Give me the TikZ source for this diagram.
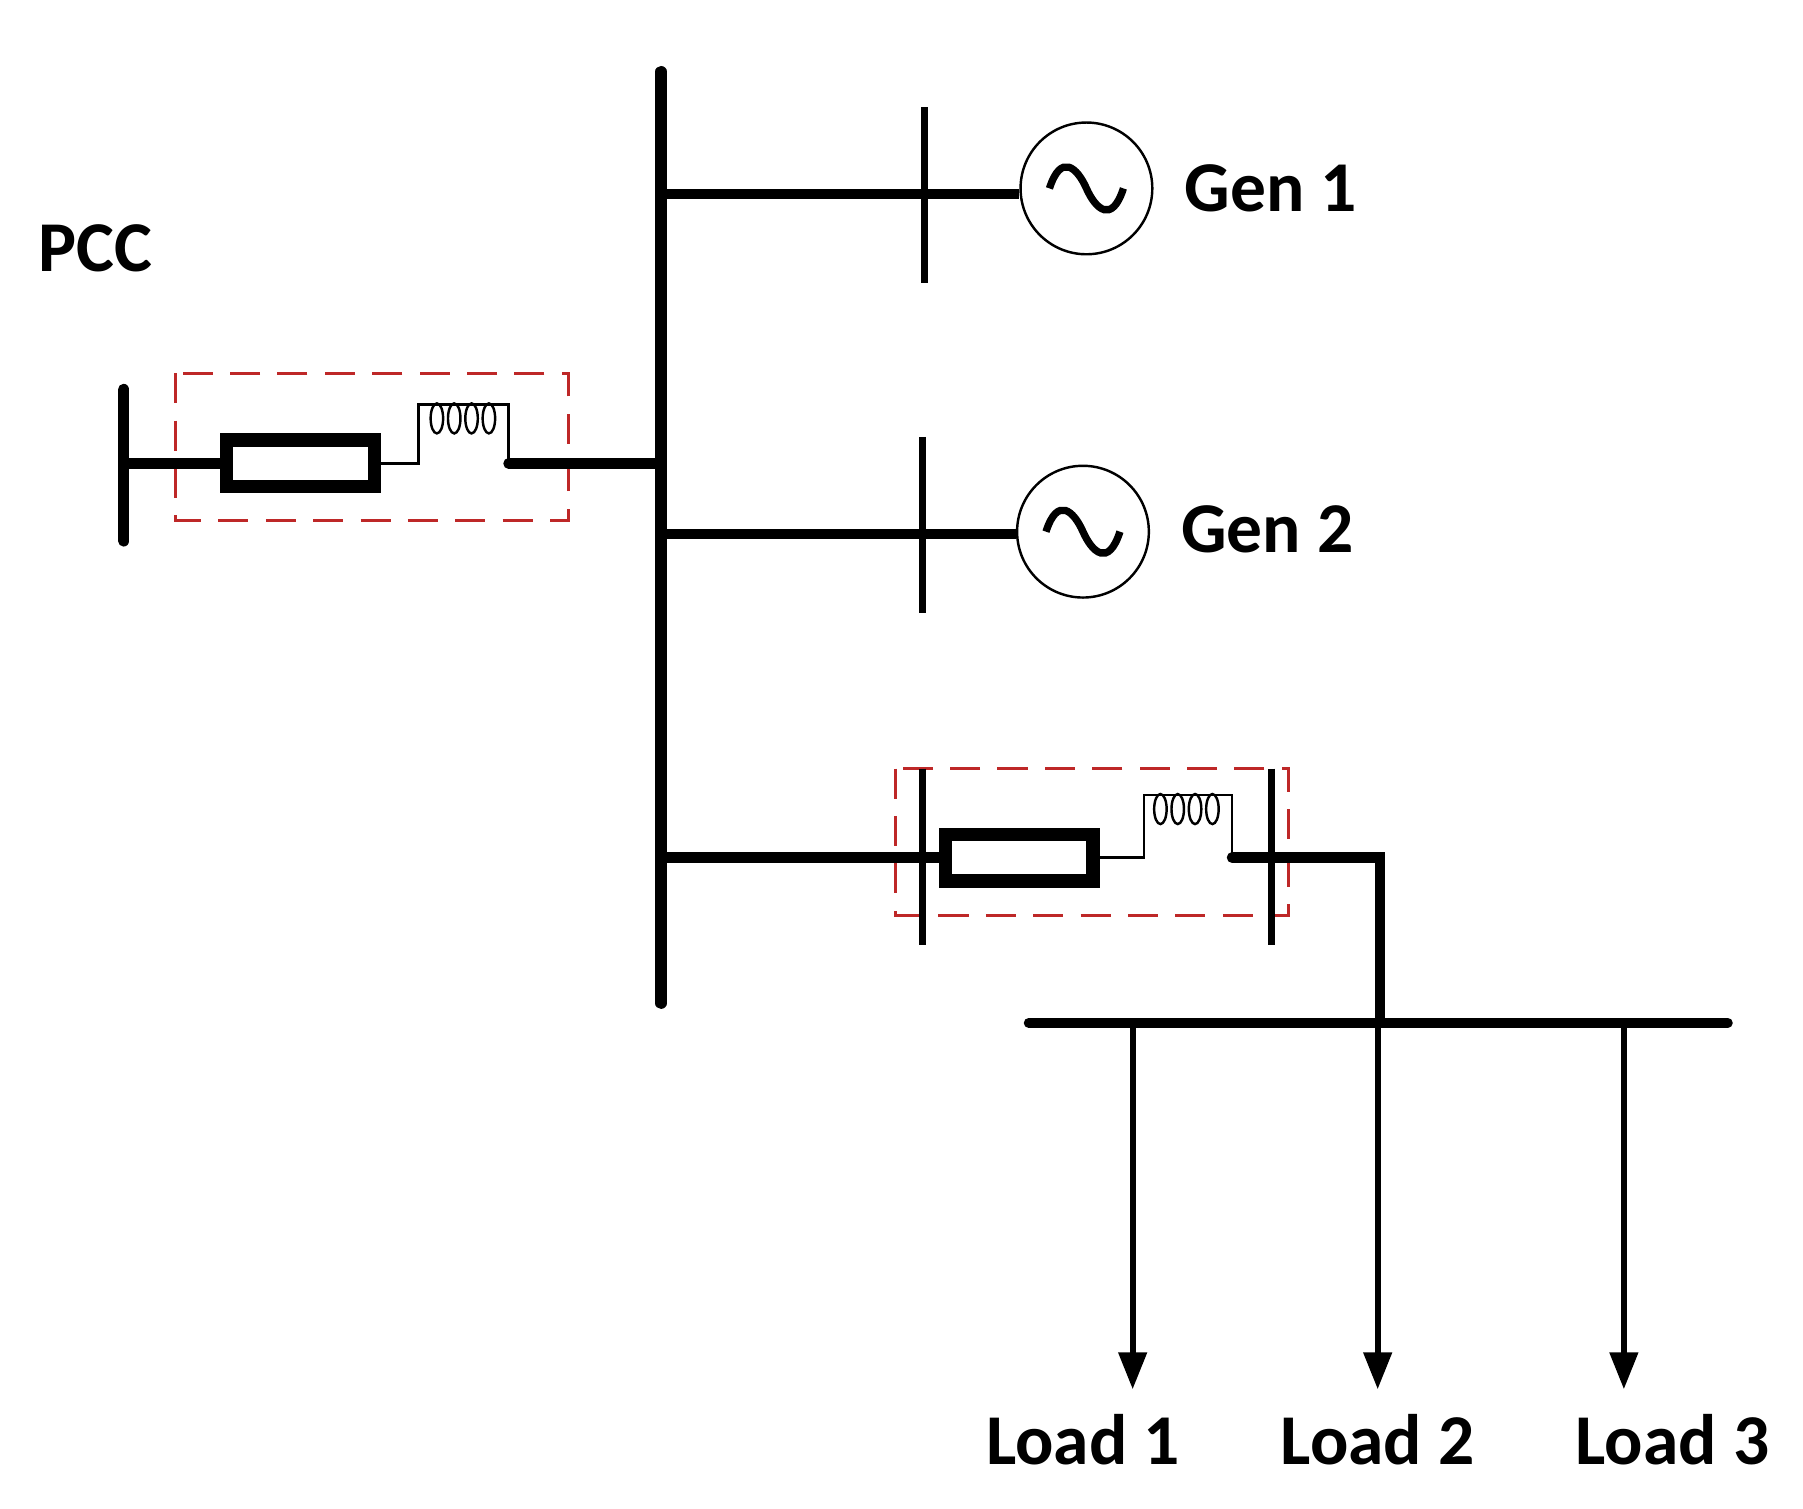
\documentclass[tikz,border=0pt]{standalone}
\usepackage{fontspec}
\setmainfont{Carlito}
\usetikzlibrary{arrows.meta}
\definecolor{dred}{RGB}{190,40,40}
\begin{document}
\begin{tikzpicture}[x=0.05cm,y=-0.05cm,
  thick bus/.style={line width=14pt,line cap=round},
  wire/.style={line width=13pt},
  thinw/.style={line width=3pt},
  res/.style={draw,line width=17pt,minimum width=6.4cm,minimum height=2.0cm,inner sep=0},
  gen/.style={draw,circle,line width=3pt,minimum size=5.7cm,inner sep=0},
  box/.style={draw=dred,line width=3.5pt,dash pattern=on 1.3cm off 0.75cm},
  lbl/.style={font=\fontsize{88}{100}\selectfont\bfseries,anchor=west,inner sep=0},
  arr/.style={line width=7pt,-{Triangle[length=1.6cm,width=1.2cm]}}]
\useasboundingbox (0,0) rectangle (1560,1305);
\newcommand{\mycoil}[2]{%
  \foreach \i in {0,1,2,3}{
    \draw[thinw] ({#1+6+15*\i},{#2+12}) ellipse [x radius=0.27cm, y radius=0.65cm];}
  \draw[thinw] (#1,#2) -- ({#1+63},#2);}
% buses
\coordinate (mt) at (572,62); \coordinate (mb) at (572,868);
\draw[thick bus] (mt)--(mb);
\coordinate (pt) at (107,337); \coordinate (pb) at (107,468);
\draw[thick bus] (pt)--(pb);
\node[lbl] (pcc) at (33,215) {PCC};
% PCC branch
\draw[box] (152,323) rectangle (492,450);
\node[res] (r1) at (260,401) {};
\coordinate (p1) at (107,401);
\draw[wire] (p1)--(r1.west);
\coordinate (c1a) at (362,401); \coordinate (c1b) at (362,350);
\coordinate (c1c) at (440,350); \coordinate (c1d) at (440,401);
\draw[thinw] (r1.east)--(c1a)--(c1b)--(372,350);
\mycoil{372}{350}
\draw[thinw] (435,350)--(c1c)--(c1d);
\coordinate (m1) at (572,401);
\draw[wire,line cap=round] (c1d)--(m1);
% Gen 1
\coordinate (g1t) at (800,93); \coordinate (g1b) at (800,245);
\draw[line width=8pt] (g1t)--(g1b);
\node[gen] (G1) at (940,163) {};
\draw[line width=9pt] (908,163) .. controls (918,132) and (932,145) .. (940,163) .. controls (948,181) and (962,194) .. (972,163);
\coordinate (m2) at (572,168);
\draw[wire] (m2)--(G1.west|-m2);
\node[lbl] (t1) at (1025,163) {Gen 1};
% Gen 2
\coordinate (g2t) at (798,378); \coordinate (g2b) at (798,530);
\draw[line width=8pt] (g2t)--(g2b);
\node[gen] (G2) at (937,460) {};
\draw[line width=9pt] (905,460) .. controls (915,429) and (929,442) .. (937,460) .. controls (945,478) and (959,491) .. (969,460);
\coordinate (m3) at (572,462);
\draw[wire] (m3)--(G2.west|-m3);
\node[lbl] (t2) at (1022,458) {Gen 2};
% lower branch
\draw[box] (775,665) rectangle (1115,792);
\coordinate (b3t) at (798,665); \coordinate (b3b) at (798,818);
\draw[line width=8pt] (b3t)--(b3b);
\coordinate (b4t) at (1100,665); \coordinate (b4b) at (1100,818);
\draw[line width=8pt] (b4t)--(b4b);
\node[res] (r2) at (882,742) {};
\coordinate (m4) at (572,742);
\draw[wire] (m4)--(r2.west);
\coordinate (c2a) at (990,742); \coordinate (c2b) at (990,688);
\coordinate (c2c) at (1066,688); \coordinate (c2d) at (1066,742);
\draw[thinw] (r2.east)--(c2a)--(c2b)--(998,688);
\mycoil{998}{688}
\draw[thinw] (1061,688)--(c2c)--(c2d);
\coordinate (k1) at (1194,742); \coordinate (k2) at (1194,885);
\draw[wire,line cap=round] (c2d)--(k1)--(k2);
% load bus
\coordinate (lb1) at (890,885); \coordinate (lb2) at (1495,885);
\draw[line width=12pt,line cap=round] (lb1)--(lb2);
\coordinate (a1) at (980,885); \coordinate (e1) at (980,1202);
\coordinate (a2) at (1192,885); \coordinate (e2) at (1192,1202);
\coordinate (a3) at (1405,885); \coordinate (e3) at (1405,1202);
\draw[arr] (a1)--(e1);
\draw[arr] (a2)--(e2);
\draw[arr] (a3)--(e3);
\node[lbl,anchor=center] (L1) at (937,1246) {Load 1};
\node[lbl,anchor=center] (L2) at (1192,1246) {Load 2};
\node[lbl,anchor=center] (L3) at (1447,1246) {Load 3};
\end{tikzpicture}
\end{document}
